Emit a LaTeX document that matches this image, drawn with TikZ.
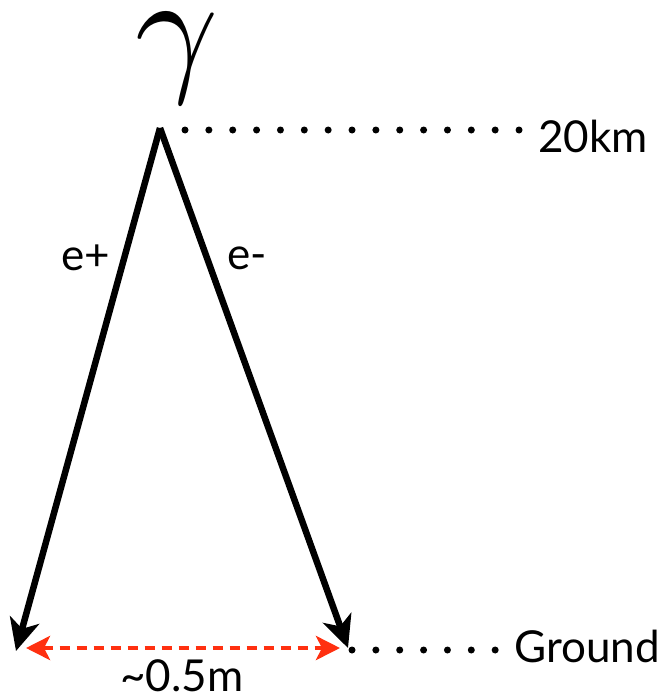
\documentclass[tikz,border=0pt]{standalone}
\usepackage{fontspec}
\setmainfont{Lato}
\usetikzlibrary{arrows.meta}
\begin{document}
\begin{tikzpicture}[x=1pt,y=-1pt,
  track/.style={line width=6.5pt,-{Stealth[length=32pt,width=30pt,inset=9pt]}},
  dotline/.style={line width=7pt,line cap=round,dash pattern=on 0pt off 23.86pt},
  redarrow/.style={draw={rgb,255:red,255;green,48;blue,16},line width=4.5pt,dash pattern=on 10pt off 7pt,
    {Stealth[length=24pt,width=24pt,inset=6pt]}-{Stealth[length=24pt,width=24pt,inset=6pt]}},
  lbl/.style={font=\fontsize{44}{44}\selectfont,inner sep=0pt}]
\useasboundingbox (0,0) rectangle (671,698);
\coordinate (apex) at (160,128);
\coordinate (lend) at (16,651);
\coordinate (rend) at (348,648);
\coordinate (d1a) at (185,130);
\coordinate (d1b) at (521,130);
\coordinate (d2a) at (352,650);
\coordinate (d2b) at (497,650);
\coordinate (ra) at (26,648);
\coordinate (rb) at (340,648);
\node[inner sep=0pt,scale=14.5] (gam) at (177,58) {$\gamma$};
\draw[track] (apex) -- (lend);
\draw[track] (apex) -- (rend);
\draw[dotline] (d1a) -- (d1b);
\draw[dotline] (d2a) -- (d2b);
\draw[redarrow] (ra) -- (rb);
\node[lbl] (km) at (593,136) {20km};
\node[lbl] (gr) at (587,646) {Ground};
\node[lbl] (ep) at (86,258) {e+};
\node[lbl] (em) at (247,258) {e-};
\node[lbl] (dist) at (182,676) {\textasciitilde 0.5m};
\end{tikzpicture}
\end{document}
